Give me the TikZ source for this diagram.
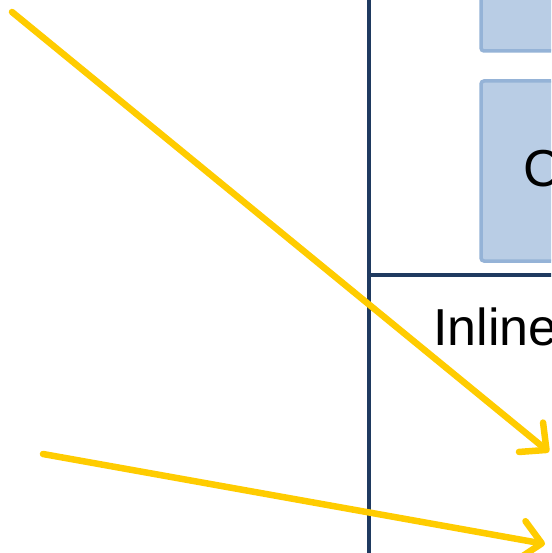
\documentclass[tikz,border=0pt]{standalone}
\usepackage{fontspec}
\setmainfont{Liberation Sans}
\usetikzlibrary{arrows.meta}
\definecolor{navy}{HTML}{1F3A60}
\definecolor{boxfill}{HTML}{B9CDE5}
\definecolor{boxedge}{HTML}{95B3D7}
\definecolor{gold}{HTML}{FFCC00}
\tikzset{
  panel/.style={draw=boxedge, fill=boxfill, line width=3.5pt, rounded corners=3pt},
  divider/.style={draw=navy, line width=4.5pt},
  pointer/.style={draw=gold, line width=6.5pt, line cap=round,
    -{Straight Barb[length=20pt,width=38pt,round]}},
  bigtext/.style={font=\fontsize{52}{60}\selectfont, text=black, inner sep=0pt, anchor=base west}
}
\begin{document}
\begin{tikzpicture}[x=1pt,y=-1pt]
  \useasboundingbox (0,0) rectangle (551,553);
  \clip (0,0) rectangle (551,553);
  \fill[white] (0,0) rectangle (551,553);
  % panels on the right
  \path[panel] (481,-20) rectangle (600,51);
  \path[panel] (481,81) rectangle (600,261);
  \node[bigtext] (ctext) at (523,187) {C};
  % frame lines
  \coordinate (vtop) at (369,-5);
  \coordinate (vbot) at (369,560);
  \coordinate (hleft) at (369,275);
  \coordinate (hright) at (560,275);
  \draw[divider] (vtop) -- (vbot);
  \draw[divider] (hleft) -- (hright);
  \node[bigtext] (inl) at (433,345) {Inline};
  % arrows
  \coordinate (a1s) at (12,12);
  \coordinate (a1e) at (549,452);
  \coordinate (a2s) at (43,454);
  \coordinate (a2e) at (545,544);
  \draw[pointer] (a1s) -- (a1e);
  \draw[pointer] (a2s) -- (a2e);
\end{tikzpicture}
\end{document}
